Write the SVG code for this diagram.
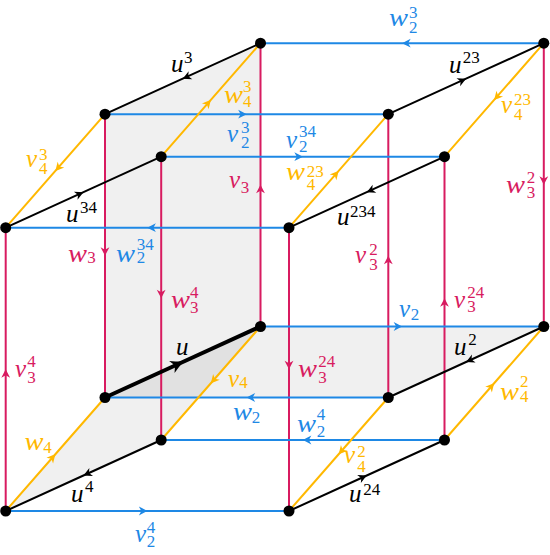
<svg xmlns="http://www.w3.org/2000/svg" width="550" height="555" viewBox="0 0 550 555">
<style>
.face{fill:#000;fill-opacity:0.058;stroke:none}
.e{fill:none;stroke-width:2;stroke-linecap:butt}
.k{stroke:#000;marker-mid:url(#ak)}
.kt{stroke:#000;stroke-width:4;marker-mid:url(#akt)}
.b{stroke:#1E88E5;marker-mid:url(#ab)}
.p{stroke:#D81B60;marker-mid:url(#ap)}
.y{stroke:#FFB800;marker-mid:url(#ay)}
.dot{fill:#000}
text{font-family:"Liberation Serif","Times New Roman",serif;font-size:25px}
.l{font-style:italic}
.s{font-size:17px;font-style:normal}
.tk{fill:#000}.tb{fill:#1E88E5}.tp{fill:#D81B60}.ty{fill:#FFB800}
</style>
<defs>
<marker id="ak" markerUnits="userSpaceOnUse" orient="auto" refX="0" refY="0" markerWidth="12" markerHeight="12" style="overflow:visible"><path d="M0,0 Q-3.5,1.8 -8.5,4.4 L-6,0 L-8.5,-4.4 Q-3.5,-1.8 0,0 Z" fill="#000"/></marker>
<marker id="akt" markerUnits="userSpaceOnUse" orient="auto" refX="0" refY="0" markerWidth="16" markerHeight="16" style="overflow:visible"><path d="M1,0 Q-5,2.6 -12,6.5 L-8.5,0 L-12,-6.5 Q-5,-2.6 1,0 Z" fill="#000"/></marker>
<marker id="ab" markerUnits="userSpaceOnUse" orient="auto" refX="0" refY="0" markerWidth="12" markerHeight="12" style="overflow:visible"><path d="M0,0 Q-3.5,1.8 -8.5,4.4 L-6,0 L-8.5,-4.4 Q-3.5,-1.8 0,0 Z" fill="#1E88E5"/></marker>
<marker id="ap" markerUnits="userSpaceOnUse" orient="auto" refX="0" refY="0" markerWidth="12" markerHeight="12" style="overflow:visible"><path d="M0,0 Q-3.5,1.8 -8.5,4.4 L-6,0 L-8.5,-4.4 Q-3.5,-1.8 0,0 Z" fill="#D81B60"/></marker>
<marker id="ay" markerUnits="userSpaceOnUse" orient="auto" refX="0" refY="0" markerWidth="12" markerHeight="12" style="overflow:visible"><path d="M0,0 Q-3.5,1.8 -8.5,4.4 L-6,0 L-8.5,-4.4 Q-3.5,-1.8 0,0 Z" fill="#FFB800"/></marker>
</defs>

<g id="faces">
<polygon class="face" points="105,397.5 260.5,326.5 260.5,43.2 105,114.2"/>
<polygon class="face" points="5.7,511 161.2,440 260.5,326.5 105,397.5"/>
<polygon class="face" points="105,397.5 260.5,326.5 543.8,326.5 388.3,397.5"/>
</g>

<g id="connectors">
<path class="e p" d="M5.7,511 L5.7,369.35 L5.7,227.7"/>
<path class="e p" d="M105,114.2 L105,255.85 L105,397.5"/>
<path class="e p" d="M161.2,156.7 L161.2,298.35 L161.2,440"/>
<path class="e p" d="M260.5,326.5 L260.5,184.85 L260.5,43.2"/>
<path class="e p" d="M289,227.7 L289,369.35 L289,511"/>
<path class="e p" d="M388.3,397.5 L388.3,255.85 L388.3,114.2"/>
<path class="e p" d="M444.5,440 L444.5,298.35 L444.5,156.7"/>
<path class="e p" d="M543.8,43.2 L543.8,184.85 L543.8,326.5"/>
<path class="e b" d="M5.7,511 L147.35,511 L289,511"/>
<path class="e b" d="M444.5,440 L302.85,440 L161.2,440"/>
<path class="e b" d="M388.3,397.5 L246.65,397.5 L105,397.5"/>
<path class="e b" d="M260.5,326.5 L402.15,326.5 L543.8,326.5"/>
<path class="e b" d="M289,227.7 L147.35,227.7 L5.7,227.7"/>
<path class="e b" d="M161.2,156.7 L302.85,156.7 L444.5,156.7"/>
<path class="e b" d="M105,114.2 L246.65,114.2 L388.3,114.2"/>
<path class="e b" d="M543.8,43.2 L402.15,43.2 L260.5,43.2"/>
<path class="e y" d="M5.7,511 L55.35,454.25 L105,397.5"/>
<path class="e y" d="M260.5,326.5 L210.85,383.25 L161.2,440"/>
<path class="e y" d="M388.3,397.5 L338.65,454.25 L289,511"/>
<path class="e y" d="M444.5,440 L494.15,383.25 L543.8,326.5"/>
<path class="e y" d="M105,114.2 L55.35,170.95 L5.7,227.7"/>
<path class="e y" d="M161.2,156.7 L210.85,99.95 L260.5,43.2"/>
<path class="e y" d="M289,227.7 L338.65,170.95 L388.3,114.2"/>
<path class="e y" d="M543.8,43.2 L494.15,99.95 L444.5,156.7"/>
<path class="e kt" d="M105,397.5 L182.75,362 L260.5,326.5"/>
<path class="e k" d="M161.2,440 L83.45,475.5 L5.7,511"/>
<path class="e k" d="M289,511 L366.75,475.5 L444.5,440"/>
<path class="e k" d="M543.8,326.5 L466.05,362 L388.3,397.5"/>
<path class="e k" d="M5.7,227.7 L83.45,192.2 L161.2,156.7"/>
<path class="e k" d="M260.5,43.2 L182.75,78.7 L105,114.2"/>
<path class="e k" d="M444.5,156.7 L366.75,192.2 L289,227.7"/>
<path class="e k" d="M388.3,114.2 L466.05,78.7 L543.8,43.2"/>
</g>

<g id="nodes">
<g id="n0"><circle class="dot" cx="105" cy="397.5" r="5.5"/></g>
<g id="n1"><circle class="dot" cx="260.5" cy="326.5" r="5.5"/></g>
<g id="n2"><circle class="dot" cx="388.3" cy="397.5" r="5.5"/></g>
<g id="n3"><circle class="dot" cx="543.8" cy="326.5" r="5.5"/></g>
<g id="n4"><circle class="dot" cx="105" cy="114.2" r="5.5"/></g>
<g id="n5"><circle class="dot" cx="260.5" cy="43.2" r="5.5"/></g>
<g id="n6"><circle class="dot" cx="388.3" cy="114.2" r="5.5"/></g>
<g id="n7"><circle class="dot" cx="543.8" cy="43.2" r="5.5"/></g>
<g id="n8"><circle class="dot" cx="5.7" cy="511" r="5.5"/></g>
<g id="n9"><circle class="dot" cx="161.2" cy="440" r="5.5"/></g>
<g id="n10"><circle class="dot" cx="289" cy="511" r="5.5"/></g>
<g id="n11"><circle class="dot" cx="444.5" cy="440" r="5.5"/></g>
<g id="n12"><circle class="dot" cx="5.7" cy="227.7" r="5.5"/></g>
<g id="n13"><circle class="dot" cx="161.2" cy="156.7" r="5.5"/></g>
<g id="n14"><circle class="dot" cx="289" cy="227.7" r="5.5"/></g>
<g id="n15"><circle class="dot" cx="444.5" cy="156.7" r="5.5"/></g>
</g>

<g id="labels">
<text class="tk"><tspan class="l" x="171" y="72">u</tspan><tspan class="s" x="184" y="63">3</tspan></text>
<text class="ty"><tspan class="l" x="224" y="103" textLength="19" lengthAdjust="spacingAndGlyphs">w</tspan><tspan class="s" x="243" y="91.5">3</tspan><tspan class="s" x="243" y="107">4</tspan></text>
<text class="tb"><tspan class="l" x="227" y="141.5">v</tspan><tspan class="s" x="241" y="133">3</tspan><tspan class="s" x="241" y="148">2</tspan></text>
<text class="ty"><tspan class="l" x="26" y="166.5">v</tspan><tspan class="s" x="39" y="160">3</tspan><tspan class="s" x="39" y="174">4</tspan></text>
<text class="tp"><tspan class="l" x="229" y="188">v</tspan><tspan class="s" x="240.7" y="192.7">3</tspan></text>
<text class="tk"><tspan class="l" x="66" y="221.5">u</tspan><tspan class="s" x="80" y="213">34</tspan></text>
<text class="tk"><tspan class="l" x="449" y="73">u</tspan><tspan class="s" x="462.7" y="63.3">23</tspan></text>
<text class="ty"><tspan class="l" x="501" y="113">v</tspan><tspan class="s" x="514" y="105">23</tspan><tspan class="s" x="514" y="120">4</tspan></text>
<text class="tb"><tspan class="l" x="286" y="148">v</tspan><tspan class="s" x="299" y="137">34</tspan><tspan class="s" x="299" y="151.5">2</tspan></text>
<text class="ty"><tspan class="l" x="286" y="180" textLength="19" lengthAdjust="spacingAndGlyphs">w</tspan><tspan class="s" x="306.7" y="176.5">23</tspan><tspan class="s" x="306.7" y="190">4</tspan></text>
<text class="tp"><tspan class="l" x="506" y="193" textLength="19" lengthAdjust="spacingAndGlyphs">w</tspan><tspan class="s" x="526.7" y="183">2</tspan><tspan class="s" x="526.7" y="198">3</tspan></text>
<text class="tp"><tspan class="l" x="68" y="261.5" textLength="19" lengthAdjust="spacingAndGlyphs">w</tspan><tspan class="s" x="87.3" y="263">3</tspan></text>
<text class="tb"><tspan class="l" x="116" y="261.5" textLength="19" lengthAdjust="spacingAndGlyphs">w</tspan><tspan class="s" x="136.7" y="250">34</tspan><tspan class="s" x="136.7" y="263">2</tspan></text>
<text class="tp"><tspan class="l" x="171" y="308.3" textLength="19" lengthAdjust="spacingAndGlyphs">w</tspan><tspan class="s" x="190" y="298">4</tspan><tspan class="s" x="190" y="313">3</tspan></text>
<text class="tk"><tspan class="l" x="176" y="355">u</tspan></text>
<text class="tk"><tspan class="l" x="337" y="225">u</tspan><tspan class="s" x="350" y="216.7">234</tspan></text>
<text class="tp"><tspan class="l" x="355" y="263">v</tspan><tspan class="s" x="369.3" y="255">2</tspan><tspan class="s" x="369.3" y="270">3</tspan></text>
<text class="tp"><tspan class="l" x="454" y="308">v</tspan><tspan class="s" x="467.3" y="298">24</tspan><tspan class="s" x="467.3" y="311.7">3</tspan></text>
<text class="tb"><tspan class="l" x="399" y="316.7">v</tspan><tspan class="s" x="410.7" y="320">2</tspan></text>
<text class="tk"><tspan class="l" x="454" y="355">u</tspan><tspan class="s" x="468.3" y="345">2</tspan></text>
<text class="tp"><tspan class="l" x="298" y="376.7" textLength="19" lengthAdjust="spacingAndGlyphs">w</tspan><tspan class="s" x="318.3" y="366.7">24</tspan><tspan class="s" x="318.3" y="383">3</tspan></text>
<text class="tp"><tspan class="l" x="15" y="376.7">v</tspan><tspan class="s" x="27.3" y="366.7">4</tspan><tspan class="s" x="27.3" y="383.3">3</tspan></text>
<text class="ty"><tspan class="l" x="228" y="386.7">v</tspan><tspan class="s" x="239.3" y="388">4</tspan></text>
<text class="tb"><tspan class="l" x="233" y="420" textLength="19" lengthAdjust="spacingAndGlyphs">w</tspan><tspan class="s" x="251.7" y="423.3">2</tspan></text>
<text class="ty"><tspan class="l" x="24.5" y="450" textLength="19" lengthAdjust="spacingAndGlyphs">w</tspan><tspan class="s" x="43.3" y="453.3">4</tspan></text>
<text class="tk"><tspan class="l" x="71" y="501.7">u</tspan><tspan class="s" x="85" y="491.7">4</tspan></text>
<text class="tb"><tspan class="l" x="135" y="541.7">v</tspan><tspan class="s" x="146.7" y="533.3">4</tspan><tspan class="s" x="146.7" y="547.3">2</tspan></text>
<text class="ty"><tspan class="l" x="500" y="400" textLength="19" lengthAdjust="spacingAndGlyphs">w</tspan><tspan class="s" x="520" y="386.7">2</tspan><tspan class="s" x="520" y="401.7">4</tspan></text>
<text class="tb"><tspan class="l" x="297" y="431.7" textLength="19" lengthAdjust="spacingAndGlyphs">w</tspan><tspan class="s" x="316.7" y="420">4</tspan><tspan class="s" x="316.7" y="436.7">2</tspan></text>
<text class="ty"><tspan class="l" x="344" y="463.3">v</tspan><tspan class="s" x="357.3" y="456.7">2</tspan><tspan class="s" x="357.3" y="471.7">4</tspan></text>
<text class="tk"><tspan class="l" x="349" y="501.7">u</tspan><tspan class="s" x="363.3" y="495">24</tspan></text>
<text class="tb"><tspan class="l" x="389" y="26" textLength="19" lengthAdjust="spacingAndGlyphs">w</tspan><tspan class="s" x="409" y="18.3">3</tspan><tspan class="s" x="409" y="33.3">2</tspan></text>
</g>
</svg>
